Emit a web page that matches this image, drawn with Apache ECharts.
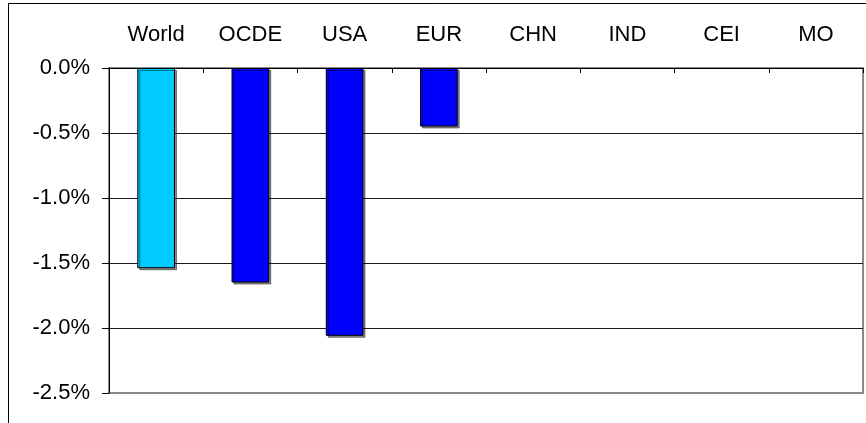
<!DOCTYPE html>
<html>
<head>
<meta charset="utf-8">
<script src="https://cdn.jsdelivr.net/npm/echarts@6/dist/echarts.min.js"></script>
<style>
  html, body { margin: 0; padding: 0; background: #fff; }
  #chart { width: 866px; height: 423px; }
</style>
</head>
<body>
<div id="chart"></div>
<script>
// Change by region (%); regions without a value are left empty
const regions = ['World', 'OCDE', 'USA', 'EUR', 'CHN', 'IND', 'CEI', 'MO'];
const changes = [-1.54, -1.65, -2.06, -0.45, null, null, null, null];
const barColors = ['#00CCFF', '#0000FF', '#0000FF', '#0000FF', '#0000FF', '#0000FF', '#0000FF', '#0000FF'];
const yTicks = [0, -0.5, -1.0, -1.5, -2.0, -2.5];

const FONT = '"Liberation Sans", Arial, sans-serif';
const chart = echarts.init(document.getElementById('chart'), null, { renderer: 'canvas' });

chart.setOption({
  backgroundColor: '#fff',
  animation: false,
  graphic: [{
    type: 'rect',
    shape: { x: 8.5, y: 3.5, width: 900, height: 500 },
    style: { fill: 'none', stroke: '#000', lineWidth: 1 },
    z: -1
  }],
  grid: {
    left: 109, top: 68, right: 3, bottom: 30,
    show: true, borderColor: '#8a8a8a', borderWidth: 2, backgroundColor: 'transparent'
  },
  xAxis: {
    type: 'category',
    data: regions,
    position: 'top',
    boundaryGap: true,
    axisLine: { show: true, lineStyle: { color: '#000', width: 1 } },
    axisTick: { show: true, inside: true, length: 5, lineStyle: { color: '#000' } },
    axisLabel: {
      interval: 0, margin: 22, fontFamily: FONT, fontSize: 22, color: '#000'
    },
    splitLine: { show: false }
  },
  yAxis: {
    type: 'value',
    min: Math.min(...yTicks),
    max: Math.max(...yTicks),
    interval: 0.5,
    axisLine: { show: true, lineStyle: { color: '#000', width: 1 } },
    axisTick: { show: true, length: 7, lineStyle: { color: '#000' } },
    axisLabel: {
      margin: 19, fontFamily: FONT, fontSize: 22, color: '#000',
      formatter: v => v.toFixed(1) + '%'
    },
    splitLine: {
      show: true,
      lineStyle: { color: ['#8a8a8a', '#1a1a1a', '#1a1a1a', '#1a1a1a', '#1a1a1a', '#1a1a1a'], width: 1 }
    }
  },
  series: [{
    type: 'bar',
    barWidth: '40%',
    data: changes.map((v, i) => ({
      value: v,
      itemStyle: { color: barColors[i] }
    })),
    itemStyle: {
      borderColor: '#000', borderWidth: 1,
      shadowColor: 'rgba(0,0,0,0.45)', shadowOffsetX: 2, shadowOffsetY: 2, shadowBlur: 0
    }
  }]
});
</script>
</body>
</html>
